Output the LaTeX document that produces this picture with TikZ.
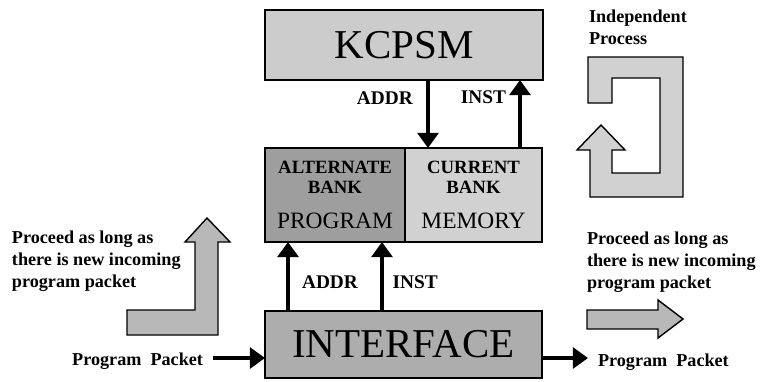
\documentclass[tikz,border=0pt]{standalone}
\usepackage{fontspec}
\setmainfont{Liberation Serif}
\usetikzlibrary{arrows.meta,positioning}
\definecolor{kcpsmgray}{gray}{0.80}
\definecolor{altgray}{gray}{0.62}
\definecolor{curgray}{gray}{0.82}
\definecolor{ifacegray}{gray}{0.68}
\definecolor{arrowgray}{gray}{0.72}
\definecolor{loopgray}{gray}{0.82}

\begin{document}
\begin{tikzpicture}[x=0.03cm, y=-0.03cm,
    every node/.style={inner sep=0pt, outer sep=0pt},
    block/.style={draw, line width=1.6pt, align=center},
    lbl/.style={font=\fontsize{15.5}{18.7}\selectfont\bfseries},
    tag/.style={font=\fontsize{16.5}{18}\selectfont\bfseries},
    bank/.style={font=\fontsize{16}{17}\selectfont\bfseries},
    flow/.style={line width=2.8pt, -{Triangle[length=13pt, width=18pt]}},
    fat/.style={draw, line width=1.2pt, line join=miter}]
\useasboundingbox (0,0) rectangle (764,381);

\node [block, fill=kcpsmgray, minimum width=8.34cm, minimum height=2.1cm,
       font=\fontsize{35}{38}\selectfont] (kcpsm) at (404,45) {KCPSM};
\node [block, fill=altgray, minimum width=4.2cm, minimum height=2.82cm, bank] (alt) at (335,195)
  {ALTERNATE\\BANK\\[13pt]{\mdseries\fontsize{20}{17}\selectfont PROGRAM}};
\node [block, fill=curgray, minimum width=4.11cm, minimum height=2.82cm, bank] (cur) at (473.5,195)
  {CURRENT\\BANK\\[13pt]{\mdseries\fontsize{20}{17}\selectfont MEMORY}};
\node [block, fill=ifacegray, minimum width=8.31cm, minimum height=2.01cm,
       font=\fontsize{35}{38}\selectfont] (iface) at (403.5,344.5) {INTERFACE};

\coordinate (upaddr) at (428,0);
\coordinate (upinst) at (520,0);
\coordinate (loaddr) at (288,0);
\coordinate (loinst) at (382,0);
\coordinate (pktin) at (213,358);
\coordinate (pktout) at (588,358);

\draw [flow] (kcpsm.south -| upaddr) -- node [tag, pos=0.26, left=13pt] (addrtop) {ADDR} (cur.north -| upaddr);
\draw [flow] (cur.north -| upinst) -- node [tag, pos=0.74, left=12pt] (insttop) {INST} (kcpsm.south -| upinst);
\draw [flow] (iface.north -| loaddr) -- node [tag, pos=0.42, right=12pt] (addrlow) {ADDR} (alt.south -| loaddr);
\draw [flow] (iface.north -| loinst) -- node [tag, pos=0.42, right=9pt] (instlow) {INST} (alt.south -| loinst);

\node [lbl, anchor=east] (inpkt) at (203,361) {Program\ \ Packet};
\draw [flow] (pktin) -- (pktin -| iface.west);
\draw [flow] (iface.east |- pktout) -- (pktout);
\node [lbl, anchor=west] (outpkt) at (598,362) {Program\ \ Packet};

\node [lbl, align=left, anchor=west] (leftnote) at (12,261)
  {Proceed as long as\\there is new incoming\\program packet};
\node [lbl, align=left, anchor=west] (rightnote) at (587,262)
  {Proceed as long as\\there is new incoming\\program packet};
\node [lbl, align=left, anchor=west] (indep) at (589,27) {Independent\\Process};

\draw [fat, fill=arrowgray] (127,310) -- (195,310) -- (195,242) -- (185,242) -- (207,218)
  -- (230,242) -- (218,242) -- (218,335) -- (127,335) -- cycle;
\draw [fat, fill=arrowgray] (587,310) -- (658,310) -- (658,300) -- (683,319) -- (658,338)
  -- (658,329) -- (587,329) -- cycle;
\draw [fat, fill=loopgray] (588,57) -- (683,57) -- (683,197) -- (590,197) -- (590,150)
  -- (577,150) -- (601,125) -- (625,150) -- (612,150) -- (612,173) -- (660,173)
  -- (660,78) -- (612,78) -- (612,103) -- (588,103) -- cycle;
\end{tikzpicture}
\end{document}
